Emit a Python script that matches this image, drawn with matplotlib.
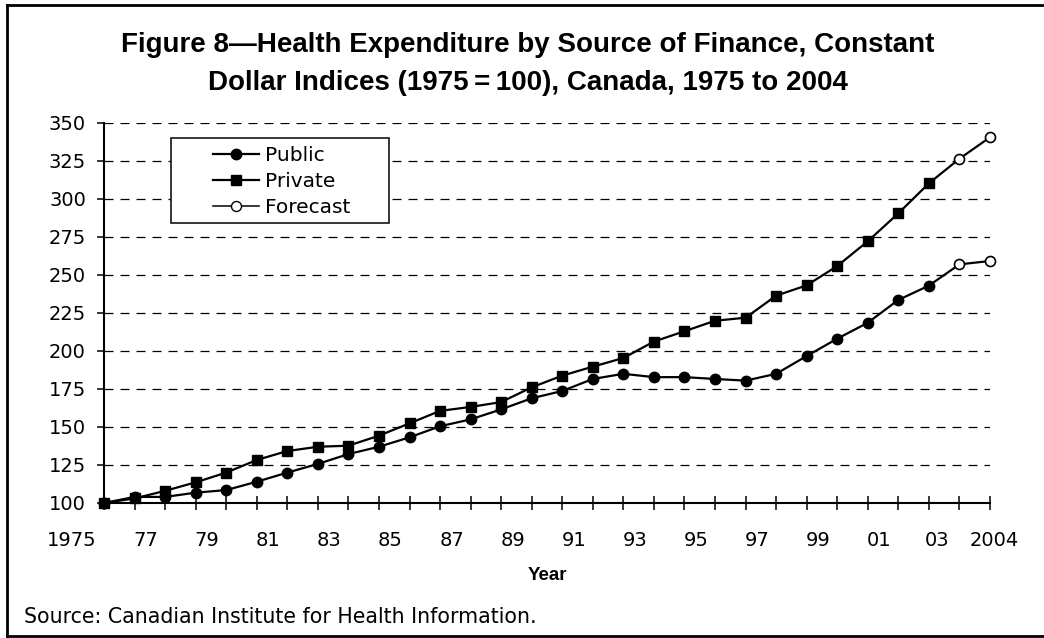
import matplotlib
matplotlib.use("Agg")
import matplotlib.pyplot as plt
from matplotlib.lines import Line2D
from matplotlib.patches import Rectangle
from matplotlib import transforms


# Constant dollar indices, 1975 = 100
years = list(range(1975, 2005))
public = [100, 104, 104, 106.8, 108.5, 114, 120, 125.7, 132.2, 137,
          143.2, 150.5, 155, 161.6, 168.9, 173.7, 181.6, 185, 182.8, 182.8,
          181.6, 180.5, 185, 196.7, 208.1, 218.6, 233.6, 243, 257, 259.2]
private = [100, 103, 108, 113.6, 120, 128.3, 134.2, 137, 137.7, 144.3,
           152.4, 160.6, 163.2, 166.4, 176.1, 183.8, 189.7, 195.4, 206.2, 213,
           219.9, 221.9, 236.4, 243.2, 255.9, 272.2, 290.6, 310.3, 326.5, 340.6]
forecast_from = 2003

label_years = [1975, 1977, 1979, 1981, 1983, 1985, 1987, 1989, 1991, 1993,
               1995, 1997, 1999, 2001, 2003, 2004]
label_text = ["1975", "77", "79", "81", "83", "85", "87", "89", "91", "93",
              "95", "97", "99", "01", "03", "2004"]
yticks = [100, 125, 150, 175, 200, 225, 250, 275, 300, 325, 350]

title = ("Figure 8\u2014Health Expenditure by Source of Finance, Constant\n"
         "Dollar Indices (1975\u2009=\u2009100), Canada, 1975 to 2004")
source = "Source: Canadian Institute for Health Information."

plt.rcParams["font.family"] = ["DejaVu Sans"]
tick_fs = 14
bold_font = ["Liberation Sans", "DejaVu Sans"]

W, H = 1044, 638
fig = plt.figure(figsize=(W / 100, H / 100), dpi=100)
ax = fig.add_axes([104 / W, 1 - 503 / H, 886 / W, 380 / H])

actual = [i for i, y in enumerate(years) if y < forecast_from]
fc = [i for i, y in enumerate(years) if y >= forecast_from]

ax.plot(years, public, color="black", lw=1.6, marker="o", ms=7.5,
        markevery=actual, clip_on=False, zorder=3)
ax.plot(years, private, color="black", lw=1.6, marker="s", ms=7,
        markevery=actual, clip_on=False, zorder=3)
ax.plot([years[i] for i in fc], [public[i] for i in fc], ls="none",
        marker="o", ms=7.2, mfc="white", mec="black", mew=1.2,
        clip_on=False, zorder=4)
ax.plot([years[i] for i in fc], [private[i] for i in fc], ls="none",
        marker="o", ms=7.2, mfc="white", mec="black", mew=1.2,
        clip_on=False, zorder=4)

ax.set_xlim(1975, 2004)
ax.set_ylim(100, 350)
ax.set_yticks(yticks)
ax.set_xticks(years)
ax.set_xticklabels([""] * len(years))
ax.tick_params(axis="y", direction="out", length=5, width=1.1,
               labelsize=tick_fs, pad=8)
ax.tick_params(axis="x", direction="inout", length=9.5, width=1.1)

for s in ["top", "right"]:
    ax.spines[s].set_visible(False)
for s in ["left", "bottom"]:
    ax.spines[s].set_linewidth(1.5)

ax.yaxis.grid(True, color="black", lw=0.9, linestyle=(0, (7.2, 5.6)))
ax.set_axisbelow(True)

# x labels sit a bit left of their ticks, like the original
base = transforms.blended_transform_factory(ax.transData, ax.transAxes)
for yr, txt in zip(label_years, label_text):
    dx = -19
    if yr == 1975:
        dx = -32
    elif yr == 2003:
        dx = -22
    elif yr == 2004:
        dx = 4
    off = transforms.ScaledTranslation(dx / 100, 0, fig.dpi_scale_trans)
    ax.text(yr, -0.1, txt, transform=base + off, ha="center", va="center",
            fontsize=tick_fs)

ax.set_xlabel("Year", fontsize=13.5, fontweight="bold", family=bold_font)
ax.xaxis.set_label_coords(0.5, -0.19)
ax.xaxis.label.set_va("center")

# legend with a hand drawn box
box = Rectangle((67 / 886, 280 / 380), 218 / 886, 85 / 380,
                transform=ax.transAxes, facecolor="white", edgecolor="black",
                lw=1.1, zorder=4)
ax.add_patch(box)
handles = [
    Line2D([], [], color="black", lw=1.6, marker="o", ms=7.5),
    Line2D([], [], color="black", lw=1.6, marker="s", ms=7),
    Line2D([], [], color="black", lw=1.1, marker="o", ms=7.2, mfc="white"),
]
ax.legend(handles, ["Public", "Private", "Forecast"], loc="upper left",
          bbox_to_anchor=(109 / 886, 357 / 380), frameon=False,
          fontsize=14.5, handlelength=2.3, handletextpad=0.3,
          labelspacing=0.34, borderpad=0, borderaxespad=0)

fig.text(528 / W, 1 - 64 / H, title, ha="center", va="center",
         fontsize=20, fontweight="bold", family=bold_font, linespacing=1.55)
fig.text(24 / W, 1 - 617 / H, source, ha="left", va="center", fontsize=14.8)

# outer frame (right edge falls outside the picture)
for xs, ys in [([7, 7], [5, 636]), ([7, W], [5, 5]), ([7, W], [636, 636])]:
    fig.add_artist(Line2D([x / W for x in xs], [1 - y / H for y in ys],
                          transform=fig.transFigure, color="black", lw=2))

fig.savefig("out.png", dpi=100)
